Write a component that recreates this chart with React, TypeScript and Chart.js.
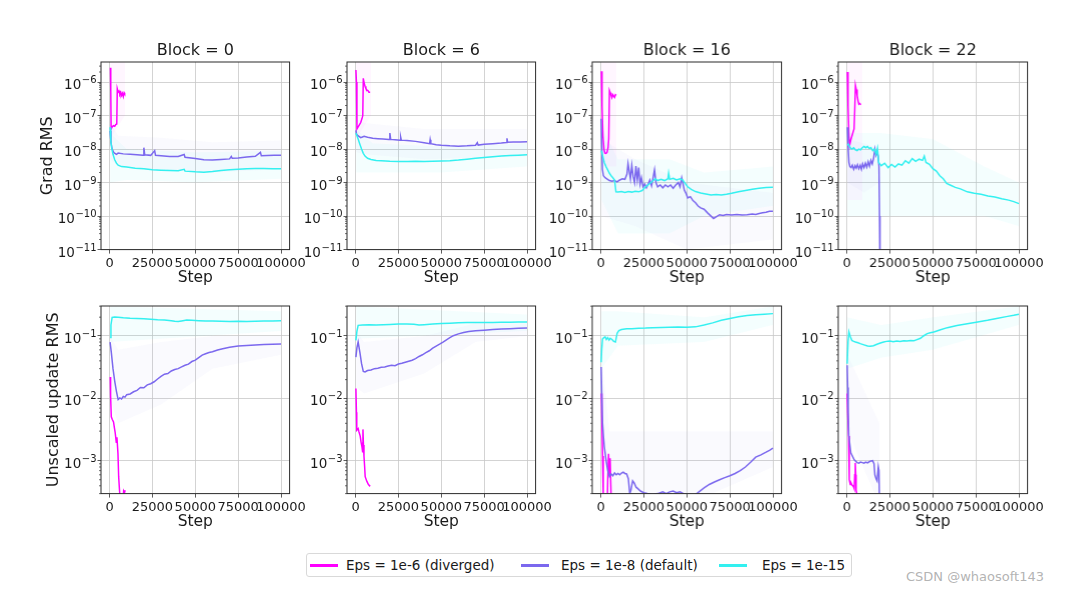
import React, { useEffect, useRef } from 'react';
import { Chart, registerables } from 'chart.js';

Chart.register(...registerables);
Chart.defaults.font.family = "'DejaVu Sans', 'Liberation Sans', sans-serif";
Chart.defaults.color = '#1a1a1a';

type Pt = [number, number];
type Bd = [number, number, number];

// ---------- labels / ticks ----------
const BLOCKS = ['0', '6', '16', '22'];
const SERIES_LABELS = ['Eps = 1e-6 (diverged)', 'Eps = 1e-8 (default)', 'Eps = 1e-15'];
const ROW_LABELS = ['Grad RMS', 'Unscaled update RMS'];
const X_LABEL = 'Step';
const STEP_TICKS = [0, 25000, 50000, 75000, 100000];
const GRAD_TICKS = [1e-11, 1e-10, 1e-9, 1e-8, 1e-7, 1e-6];
const GRAD_TICK_BASE = ['10', '10', '10', '10', '10', '10'];
const GRAD_TICK_EXP = ['−11', '−10', '−9', '−8', '−7', '−6'];
const UPD_TICKS = [1e-3, 1e-2, 1e-1];
const UPD_TICK_BASE = ['10', '10', '10'];
const UPD_TICK_EXP = ['−3', '−2', '−1'];
const STEP_RANGE = [-5000, 105000];
const GRAD_RANGE = [1e-11, 3.98e-6];
const UPD_RANGE = [3.05e-4, 0.302];

// ---------- Grad RMS, Block 0 ----------
const G0_DIV: Pt[] = [[500, 2.7e-6], [700, 6e-7], [900, 4e-8], [1500, 4.6e-8], [2200, 5e-8], [3000, 4.8e-8], [3600, 5.4e-8], [4200, 5.6e-8], [4500, 6.3e-7], [5000, 5e-7], [5500, 5.4e-7], [6000, 4.4e-7], [6500, 5.0e-7], [7000, 4.0e-7], [7500, 4.6e-7], [8000, 3.7e-7], [8500, 4.8e-7], [8800, 4.5e-7]];
const G0_DEF: Pt[] = [[300, 3.5e-8], [800, 1.6e-8], [1500, 1.0e-8], [2500, 7.8e-9], [4000, 7.0e-9], [5000, 7.6e-9], [8000, 7.2e-9], [12000, 7.0e-9], [16000, 6.8e-9], [19500, 6.6e-9], [20000, 1.1e-8], [20500, 6.8e-9], [24000, 6.5e-9], [26300, 9e-9], [26800, 6.5e-9], [30000, 6.3e-9], [35000, 6.0e-9], [40000, 6.0e-9], [43500, 6.9e-9], [44000, 5.7e-9], [50000, 5.2e-9], [55000, 4.8e-9], [60000, 4.7e-9], [65000, 4.9e-9], [70000, 5.1e-9], [71000, 6.0e-9], [71500, 5.3e-9], [75000, 5.4e-9], [80000, 5.8e-9], [85000, 6.1e-9], [88000, 8.0e-9], [88500, 6.3e-9], [92000, 6.4e-9], [96000, 6.5e-9], [100000, 6.5e-9]];
const G0_E15: Pt[] = [[300, 4.5e-8], [700, 1.8e-8], [1200, 1.1e-8], [2000, 7e-9], [3000, 4.8e-9], [4000, 3.8e-9], [5000, 3.3e-9], [7000, 3.0e-9], [10000, 2.9e-9], [15000, 2.7e-9], [20000, 2.6e-9], [25000, 2.4e-9], [30000, 2.35e-9], [35000, 2.3e-9], [40000, 2.25e-9], [43500, 2.5e-9], [44000, 2.2e-9], [50000, 2.1e-9], [55000, 2.05e-9], [60000, 2.15e-9], [65000, 2.3e-9], [70000, 2.4e-9], [75000, 2.5e-9], [80000, 2.6e-9], [85000, 2.65e-9], [90000, 2.65e-9], [95000, 2.6e-9], [100000, 2.6e-9]];

// ---------- Grad RMS, Block 6 ----------
const G6_DIV: Pt[] = [[200, 2.3e-6], [500, 1.0e-6], [800, 4.0e-8], [1500, 4.6e-8], [2200, 5.3e-8], [3000, 6.2e-8], [3700, 8.0e-8], [4200, 1.0e-7], [4500, 1.3e-6], [5000, 9.5e-7], [5500, 7.5e-7], [6000, 6.5e-7], [6500, 5.8e-7], [7200, 5.6e-7], [7800, 5.0e-7], [8500, 5.0e-7]];
const G6_DEF: Pt[] = [[200, 3.6e-8], [600, 2.8e-8], [1000, 2.6e-8], [2000, 2.4e-8], [3000, 2.2e-8], [4000, 2.3e-8], [5000, 2.4e-8], [7000, 2.25e-8], [10000, 2.1e-8], [13000, 2.05e-8], [16000, 2.0e-8], [19500, 1.95e-8], [20000, 3.0e-8], [20500, 1.95e-8], [23000, 1.9e-8], [26000, 1.85e-8], [26300, 2.3e-8], [26700, 1.85e-8], [30000, 1.8e-8], [35000, 1.7e-8], [40000, 1.55e-8], [43200, 1.45e-8], [43500, 1.9e-8], [43900, 1.45e-8], [47000, 1.35e-8], [50000, 1.3e-8], [55000, 1.25e-8], [60000, 1.22e-8], [65000, 1.25e-8], [70000, 1.3e-8], [71000, 1.55e-8], [71500, 1.32e-8], [75000, 1.4e-8], [80000, 1.45e-8], [85000, 1.52e-8], [88000, 1.58e-8], [88300, 2.1e-8], [88700, 1.6e-8], [92000, 1.62e-8], [96000, 1.64e-8], [100000, 1.65e-8]];
const G6_E15: Pt[] = [[200, 3.0e-8], [800, 2.5e-8], [1500, 2.0e-8], [2500, 1.4e-8], [3500, 1.0e-8], [4500, 7.5e-9], [5500, 6.2e-9], [7000, 5.3e-9], [9000, 4.9e-9], [12000, 4.6e-9], [15000, 4.5e-9], [20000, 4.35e-9], [25000, 4.3e-9], [30000, 4.3e-9], [35000, 4.35e-9], [40000, 4.3e-9], [45000, 4.35e-9], [50000, 4.4e-9], [55000, 4.5e-9], [60000, 4.7e-9], [65000, 5.0e-9], [70000, 5.3e-9], [75000, 5.6e-9], [80000, 5.9e-9], [85000, 6.2e-9], [90000, 6.4e-9], [95000, 6.6e-9], [100000, 6.8e-9]];

// ---------- Grad RMS, Block 16 ----------
const G16_DIV: Pt[] = [[300, 2.1e-6], [700, 2e-7], [1200, 2.5e-8], [1800, 1e-8], [2400, 7.6e-9], [3000, 7.4e-9], [3600, 8.0e-9], [4200, 1.1e-8], [4600, 2e-8], [5000, 5.6e-7], [5500, 4.8e-7], [6000, 4.0e-7], [6500, 3.5e-7], [7000, 4.2e-7], [7500, 3.8e-7], [8000, 3.5e-7], [8500, 4.2e-7], [9000, 4.0e-7]];
const G16_DEF: Pt[] = [[200, 8e-8], [500, 1.5e-8], [900, 2.5e-9], [1500, 1.6e-9], [2500, 1.4e-9], [3500, 1.3e-9], [5000, 1.15e-9], [6500, 1.1e-9], [8000, 1.15e-9], [9500, 1.05e-9], [11000, 1.2e-9], [12500, 1.3e-9], [14000, 1.25e-9], [15200, 1.8e-9], [15800, 3.7e-9], [16500, 2.2e-9], [17200, 1.3e-9], [18000, 3.3e-9], [18800, 1.5e-9], [19600, 1.0e-9], [20400, 3.1e-9], [21200, 1.2e-9], [22000, 2.8e-9], [22800, 9e-10], [23600, 1.4e-9], [24500, 7.5e-10], [25500, 9e-10], [26500, 7e-10], [27500, 9e-10], [28500, 1.2e-9], [29500, 8e-10], [30500, 1.5e-9], [31200, 2.4e-9], [32000, 1.0e-9], [33000, 7.5e-10], [34500, 8.5e-10], [36000, 7e-10], [37500, 8.5e-10], [39000, 7.5e-10], [40500, 8.5e-10], [42000, 6.8e-10], [43500, 8.5e-10], [45000, 1.0e-9], [46000, 7.5e-10], [47000, 1.4e-9], [47800, 9e-10], [48500, 6e-10], [49500, 4.8e-10], [50500, 3.5e-10], [52000, 3.8e-10], [53500, 2.9e-10], [55000, 2.5e-10], [56500, 2.0e-10], [58000, 1.75e-10], [60000, 1.6e-10], [62000, 1.25e-10], [64000, 1.0e-10], [65500, 8.5e-11], [67000, 9.5e-11], [69000, 1.1e-10], [71000, 1.05e-10], [73000, 1.12e-10], [76000, 1.08e-10], [79000, 1.12e-10], [82000, 1.08e-10], [85000, 1.1e-10], [88000, 1.15e-10], [90000, 1.12e-10], [92000, 1.2e-10], [94000, 1.25e-10], [96000, 1.3e-10], [98000, 1.4e-10], [100000, 1.4e-10]];
const G16_E15: Pt[] = [[300, 9e-9], [1000, 6.5e-9], [2000, 4e-9], [3000, 3e-9], [4000, 2.4e-9], [5000, 1.9e-9], [6000, 1.6e-9], [7000, 1.4e-9], [8000, 1.2e-9], [8800, 5.3e-10], [10000, 5.2e-10], [12000, 5.4e-10], [14000, 5.1e-10], [16000, 5.4e-10], [18000, 5.2e-10], [20000, 5.5e-10], [22000, 5.3e-10], [24000, 5.8e-10], [26000, 7.5e-10], [28000, 9e-10], [30000, 1.1e-9], [31600, 1.3e-9], [33000, 1.15e-9], [35000, 1.25e-9], [37000, 1.15e-9], [39000, 1.3e-9], [39400, 1.9e-9], [40000, 1.25e-9], [42000, 1.35e-9], [44000, 1.2e-9], [46000, 1.3e-9], [47500, 1.2e-9], [49000, 9.5e-10], [50500, 7.5e-10], [52500, 6.3e-10], [55000, 5.4e-10], [58000, 4.9e-10], [61000, 4.6e-10], [64000, 4.3e-10], [67000, 4.4e-10], [70000, 4.3e-10], [73000, 4.5e-10], [76000, 4.8e-10], [80000, 5.3e-10], [84000, 5.8e-10], [88000, 6.3e-10], [92000, 6.8e-10], [96000, 7.1e-10], [100000, 7.3e-10]];

// ---------- Grad RMS, Block 22 ----------
const G22_DIV: Pt[] = [[300, 2e-6], [700, 2e-7], [1200, 2.5e-8], [1600, 1.3e-8], [2200, 1.8e-8], [3000, 2.5e-8], [3600, 3.2e-8], [4200, 4e-8], [4600, 1.5e-7], [5000, 8e-7], [5500, 6e-7], [6000, 4e-7], [6500, 2.8e-7], [7000, 2.2e-7], [7500, 2.3e-7], [8200, 2.1e-7]];
const G22_DEF: Pt[] = [[300, 4.5e-8], [700, 1.2e-8], [1200, 4e-9], [1800, 3.0e-9], [2500, 2.8e-9], [3200, 3.3e-9], [4000, 2.5e-9], [4800, 3.2e-9], [5500, 2.7e-9], [6200, 3.4e-9], [7000, 2.6e-9], [7800, 3.3e-9], [8500, 2.5e-9], [9200, 3.6e-9], [10000, 2.8e-9], [10800, 3.8e-9], [11600, 2.9e-9], [12400, 4.2e-9], [13200, 3.1e-9], [14000, 4.6e-9], [14800, 3.6e-9], [15600, 5.5e-9], [16300, 1.0e-8], [17000, 6.5e-9], [17600, 8e-9], [18200, 6.3e-9], [18700, 3e-9], [19000, 1e-10], [19300, 1e-12]];
const G22_E15: Pt[] = [[300, 1.3e-8], [1000, 1.4e-8], [2000, 1.1e-8], [3000, 1.0e-8], [4000, 1.1e-8], [5000, 9.5e-9], [6000, 9.0e-9], [7000, 1.0e-8], [8000, 9.5e-9], [9000, 1.1e-8], [10000, 1.2e-8], [11000, 1.1e-8], [12000, 1.2e-8], [13000, 1.05e-8], [14000, 1.1e-8], [15000, 9e-9], [16000, 1.0e-8], [17000, 7e-9], [17800, 1.05e-8], [18500, 4e-9], [20000, 3.2e-9], [22000, 3.8e-9], [24000, 2.8e-9], [26000, 3.5e-9], [28000, 2.9e-9], [30000, 3.6e-9], [32000, 3.3e-9], [34000, 4.5e-9], [36000, 3.8e-9], [38000, 5.2e-9], [40000, 4.3e-9], [42000, 5.0e-9], [44000, 4.6e-9], [45000, 6.2e-9], [46000, 4.0e-9], [48000, 3.5e-9], [50000, 2.6e-9], [52000, 2.2e-9], [54000, 1.6e-9], [56000, 1.3e-9], [58000, 9.5e-10], [60000, 8.5e-10], [63000, 7.2e-10], [66000, 6.5e-10], [70000, 5.3e-10], [74000, 4.8e-10], [78000, 4.5e-10], [82000, 4.0e-10], [86000, 3.7e-10], [90000, 3.3e-10], [94000, 3.0e-10], [97000, 2.7e-10], [100000, 2.35e-10]];

// ---------- Unscaled update RMS, Block 0 ----------
const U0_DIV: Pt[] = [[400, 0.022], [600, 0.011], [1000, 0.0051], [1600, 0.0046], [2300, 0.0042], [2800, 0.0034], [3300, 0.0028], [3900, 0.0020], [4300, 0.0024], [4900, 0.0013], [5300, 0.00056], [5800, 0.00034], [6300, 0.00022], [7500, 0.00018], [8200, 0.00033], [8700, 0.00031], [9100, 0.00034]];
const U0_DEF: Pt[] = [[300, 0.080], [1000, 0.055], [2000, 0.030], [3000, 0.019], [4000, 0.013], [5000, 0.0096], [6000, 0.0102], [7000, 0.0098], [8000, 0.0108], [9000, 0.0105], [10000, 0.0115], [12000, 0.0118], [14000, 0.0128], [16000, 0.0135], [18000, 0.0150], [20000, 0.0148], [22000, 0.0165], [24000, 0.0172], [26000, 0.0185], [28000, 0.0205], [30000, 0.0225], [32000, 0.0245], [34000, 0.0250], [36000, 0.0275], [38000, 0.0290], [40000, 0.0300], [42000, 0.0320], [44000, 0.0340], [46000, 0.0355], [48000, 0.0390], [50000, 0.0410], [52000, 0.0450], [54000, 0.0495], [56000, 0.0520], [58000, 0.0545], [60000, 0.0560], [63000, 0.0595], [66000, 0.0625], [70000, 0.0660], [75000, 0.0690], [80000, 0.0705], [85000, 0.0720], [90000, 0.0730], [95000, 0.0740], [100000, 0.0745]];
const U0_E15: Pt[] = [[300, 0.095], [800, 0.15], [1500, 0.198], [3000, 0.202], [5000, 0.200], [8000, 0.196], [12000, 0.192], [16000, 0.190], [20000, 0.188], [24000, 0.186], [28000, 0.182], [32000, 0.180], [36000, 0.176], [38000, 0.172], [40000, 0.170], [42000, 0.174], [45000, 0.180], [48000, 0.178], [52000, 0.176], [56000, 0.174], [60000, 0.173], [65000, 0.172], [70000, 0.171], [75000, 0.172], [80000, 0.171], [85000, 0.172], [90000, 0.173], [95000, 0.174], [100000, 0.175]];

// ---------- Unscaled update RMS, Block 6 ----------
const U6_DIV: Pt[] = [[200, 0.0144], [500, 0.006], [700, 0.0031], [1500, 0.0033], [2000, 0.0029], [2700, 0.0025], [3200, 0.0020], [3700, 0.0017], [4100, 0.0014], [4300, 0.0032], [4600, 0.0018], [4900, 0.0012], [5300, 0.0008], [5600, 0.00056], [6600, 0.00047], [7500, 0.00042], [8200, 0.00040], [8500, 0.00041]];
const U6_DEF: Pt[] = [[200, 0.046], [800, 0.065], [1500, 0.080], [2500, 0.055], [3500, 0.036], [4500, 0.027], [5500, 0.0265], [7000, 0.0280], [9000, 0.0285], [11000, 0.0300], [13000, 0.0305], [15000, 0.0315], [17000, 0.0320], [19000, 0.0330], [21000, 0.0340], [23000, 0.0335], [25000, 0.0355], [27000, 0.0365], [29000, 0.0380], [31000, 0.0395], [33000, 0.0410], [35000, 0.0435], [37000, 0.047], [39000, 0.050], [41000, 0.054], [43000, 0.058], [45000, 0.064], [47000, 0.069], [49000, 0.074], [51000, 0.080], [53000, 0.087], [55000, 0.094], [57000, 0.101], [60000, 0.108], [63000, 0.114], [66000, 0.118], [70000, 0.121], [75000, 0.124], [80000, 0.127], [85000, 0.129], [90000, 0.131], [95000, 0.133], [100000, 0.134]];
const U6_E15: Pt[] = [[200, 0.085], [800, 0.12], [1500, 0.148], [4000, 0.150], [8000, 0.151], [12000, 0.150], [16000, 0.152], [20000, 0.153], [25000, 0.155], [30000, 0.156], [34000, 0.154], [37000, 0.150], [40000, 0.152], [45000, 0.156], [50000, 0.158], [55000, 0.160], [60000, 0.163], [65000, 0.164], [70000, 0.164], [75000, 0.165], [80000, 0.165], [85000, 0.166], [90000, 0.166], [95000, 0.167], [100000, 0.167]];

// ---------- Unscaled update RMS, Block 16 ----------
const U16_DIV: Pt[] = [[300, 0.012], [600, 0.005], [1000, 0.0012], [1400, 0.00025], [1800, 0.0001], [3500, 0.0001], [4000, 0.0005], [4500, 0.0013], [5000, 0.0006], [5400, 0.0011], [5900, 0.00032], [6400, 0.0001]];
const U16_DEF: Pt[] = [[200, 0.032], [600, 0.010], [1000, 0.004], [1500, 0.0025], [2000, 0.0017], [3000, 0.00104], [4000, 0.0007], [5000, 0.00056], [6000, 0.00062], [7000, 0.00058], [8000, 0.00064], [9000, 0.00060], [10000, 0.00063], [11000, 0.00060], [12000, 0.00064], [13000, 0.00066], [14000, 0.00063], [15000, 0.00062], [16000, 0.00052], [16800, 0.00030], [17500, 0.00034], [18500, 0.00048], [19500, 0.00044], [20500, 0.00038], [21500, 0.00036], [23000, 0.00033], [25000, 0.00031], [27000, 0.00030], [30000, 0.00029], [33000, 0.00030], [36000, 0.00032], [38000, 0.00030], [40000, 0.00032], [42000, 0.00033], [44000, 0.00031], [46000, 0.00032], [48000, 0.00030], [50000, 0.00029], [52000, 0.00028], [55000, 0.00029], [57000, 0.00032], [60000, 0.00037], [63000, 0.00042], [66000, 0.00046], [69000, 0.00050], [72000, 0.00054], [75000, 0.00058], [78000, 0.00063], [81000, 0.00070], [84000, 0.00080], [87000, 0.00095], [90000, 0.00115], [93000, 0.00125], [96000, 0.00138], [98000, 0.00148], [100000, 0.0016]];
const U16_E15: Pt[] = [[200, 0.038], [500, 0.06], [1000, 0.090], [1800, 0.094], [2500, 0.097], [3200, 0.088], [4000, 0.094], [4800, 0.086], [5500, 0.092], [6500, 0.088], [7500, 0.082], [8500, 0.080], [9500, 0.110], [10500, 0.122], [12000, 0.127], [15000, 0.130], [18000, 0.131], [22000, 0.133], [26000, 0.134], [30000, 0.136], [35000, 0.137], [40000, 0.138], [45000, 0.139], [50000, 0.138], [55000, 0.140], [60000, 0.150], [65000, 0.162], [70000, 0.178], [75000, 0.190], [80000, 0.203], [85000, 0.212], [90000, 0.218], [95000, 0.223], [100000, 0.228]];

// ---------- Unscaled update RMS, Block 22 ----------
const U22_DIV: Pt[] = [[200, 0.012], [500, 0.006], [1000, 0.0025], [1400, 0.0005], [2000, 0.00042], [2500, 0.00044], [3000, 0.00041], [3500, 0.00040], [4000, 0.00038], [4300, 0.00036], [4600, 0.0006], [4900, 0.00093], [5200, 0.0006], [5400, 0.00034], [6000, 0.00028]];
const U22_DEF: Pt[] = [[200, 0.034], [500, 0.015], [800, 0.006], [1100, 0.0026], [2300, 0.00135], [4300, 0.00104], [6000, 0.00094], [7000, 0.00092], [8000, 0.00096], [9000, 0.00094], [10000, 0.00092], [11000, 0.00096], [12000, 0.00093], [13000, 0.00097], [14000, 0.00100], [15000, 0.00101], [15800, 0.00090], [16300, 0.00060], [17000, 0.00052], [17600, 0.00048], [18300, 0.00081], [18700, 0.00070], [19000, 0.0002], [19300, 0.00005]];
const U22_E15: Pt[] = [[200, 0.036], [700, 0.08], [1200, 0.116], [2000, 0.098], [2900, 0.085], [4000, 0.082], [5000, 0.080], [6500, 0.078], [7800, 0.0755], [10000, 0.072], [12000, 0.069], [13600, 0.0684], [15500, 0.070], [17500, 0.0736], [19500, 0.077], [21400, 0.080], [23000, 0.082], [25000, 0.083], [27000, 0.081], [29000, 0.083], [31000, 0.082], [33000, 0.084], [35000, 0.083], [37000, 0.085], [39000, 0.084], [40000, 0.086], [42800, 0.092], [44500, 0.100], [46700, 0.109], [48500, 0.113], [50600, 0.116], [54000, 0.125], [58400, 0.136], [64000, 0.147], [70000, 0.157], [76000, 0.168], [81700, 0.178], [87000, 0.191], [93400, 0.206], [97000, 0.214], [100000, 0.222]];

// ---------- faint spread bands [step, low, high] ----------
const BAND_G0_DIV: Bd[] = [[300, 2e-8, 4e-6], [9000, 1e-7, 4e-6]];
const BAND_G0_DEF: Bd[] = [[300, 5e-9, 6e-8], [5000, 3e-9, 2.5e-8], [30000, 2.5e-9, 2.2e-8], [60000, 2e-9, 1.6e-8], [100000, 2.5e-9, 1.8e-8]];
const BAND_G0_E15: Bd[] = [[300, 1e-9, 3e-8], [10000, 1.2e-9, 1e-8], [50000, 1e-9, 8e-9], [100000, 1.3e-9, 9e-9]];
const BAND_G6_DIV: Bd[] = [[300, 2e-8, 4e-6], [9000, 1e-7, 4e-6]];
const BAND_G6_DEF: Bd[] = [[300, 8e-9, 8e-8], [5000, 7e-9, 6e-8], [40000, 5e-9, 4e-8], [100000, 6e-9, 4e-8]];
const BAND_G6_E15: Bd[] = [[300, 2e-9, 4e-8], [10000, 2e-9, 1.5e-8], [50000, 2e-9, 1.2e-8], [100000, 3e-9, 1.5e-8]];
const BAND_G16_DIV: Bd[] = [[300, 3e-9, 4e-6], [9000, 3e-9, 4e-6]];
const BAND_G16_DEF: Bd[] = [[300, 1e-10, 2e-8], [20000, 5e-11, 5e-9], [50000, 1e-11, 1e-9], [100000, 2e-11, 5e-10]];
const BAND_G16_E15: Bd[] = [[300, 3e-10, 5e-8], [10000, 3e-11, 5e-9], [40000, 3e-11, 5e-9], [60000, 1e-10, 2e-9], [100000, 2e-10, 3e-9]];
const BAND_G22_DIV: Bd[] = [[300, 3e-10, 4e-6], [9000, 3e-10, 4e-6]];
const BAND_G22_DEF: Bd[] = [[300, 1e-9, 2e-8], [10000, 5e-10, 1.5e-8], [19000, 1e-9, 1e-8]];
const BAND_G22_E15: Bd[] = [[300, 1e-10, 3e-8], [20000, 1e-10, 3e-8], [50000, 1e-10, 2e-8], [80000, 1e-10, 3e-9], [100000, 5e-11, 1e-9]];
const BAND_U0_DEF: Bd[] = [[300, 0.01, 0.1], [5000, 0.004, 0.06], [30000, 0.008, 0.08], [60000, 0.03, 0.1], [100000, 0.05, 0.1]];
const BAND_U0_E15: Bd[] = [[300, 0.08, 0.3], [100000, 0.12, 0.25]];
const BAND_U6_DEF: Bd[] = [[300, 0.015, 0.12], [5000, 0.012, 0.08], [40000, 0.025, 0.1], [70000, 0.08, 0.16], [100000, 0.1, 0.16]];
const BAND_U6_E15: Bd[] = [[300, 0.09, 0.3], [100000, 0.12, 0.22]];
const BAND_U16_DEF: Bd[] = [[300, 0.005, 0.05], [5000, 2e-4, 3e-3], [50000, 2e-4, 3e-3], [100000, 8e-4, 3e-3]];
const BAND_U16_E15: Bd[] = [[300, 0.03, 0.25], [10000, 0.07, 0.25], [60000, 0.08, 0.2], [100000, 0.15, 0.3]];
const BAND_U22_DEF: Bd[] = [[300, 0.003, 0.05], [19000, 2e-4, 4e-3]];
const BAND_U22_E15: Bd[] = [[300, 0.03, 0.2], [20000, 0.045, 0.15], [50000, 0.06, 0.2], [100000, 0.15, 0.3]];

// ---------- styling ----------
const COLORS = ['#ff00ff', '#7b68ee', '#33f0f0'];
const BAND_COLORS = ['rgba(255,0,255,0.035)', 'rgba(123,104,238,0.035)', 'rgba(0,240,240,0.045)'];
const TEXT = '#1a1a1a';
const FONT = "'DejaVu Sans', sans-serif";

type PanelDef = { row: number; col: number; lines: Pt[][]; bands: [Bd[], number][] };

const PANELS: PanelDef[] = [
  { row: 0, col: 0, lines: [G0_DIV, G0_DEF, G0_E15], bands: [[BAND_G0_DIV, 0], [BAND_G0_DEF, 1], [BAND_G0_E15, 2]] },
  { row: 0, col: 1, lines: [G6_DIV, G6_DEF, G6_E15], bands: [[BAND_G6_DIV, 0], [BAND_G6_DEF, 1], [BAND_G6_E15, 2]] },
  { row: 0, col: 2, lines: [G16_DIV, G16_DEF, G16_E15], bands: [[BAND_G16_DIV, 0], [BAND_G16_DEF, 1], [BAND_G16_E15, 2]] },
  { row: 0, col: 3, lines: [G22_DIV, G22_DEF, G22_E15], bands: [[BAND_G22_DIV, 0], [BAND_G22_DEF, 1], [BAND_G22_E15, 2]] },
  { row: 1, col: 0, lines: [U0_DIV, U0_DEF, U0_E15], bands: [[BAND_U0_DEF, 1], [BAND_U0_E15, 2]] },
  { row: 1, col: 1, lines: [U6_DIV, U6_DEF, U6_E15], bands: [[BAND_U6_DEF, 1], [BAND_U6_E15, 2]] },
  { row: 1, col: 2, lines: [U16_DIV, U16_DEF, U16_E15], bands: [[BAND_U16_DEF, 1], [BAND_U16_E15, 2]] },
  { row: 1, col: 3, lines: [U22_DIV, U22_DEF, U22_E15], bands: [[BAND_U22_DEF, 1], [BAND_U22_E15, 2]] },
];

// layout (pixels)
const COL_LEFT = [100.5, 346.7, 592.1, 838.1];
const PLOT_W = 188.6;
const ROW_TOP = [61.7, 305.7];
const PLOT_H = 187.6;
const X_AXIS_H = 40;
const RIGHT_PAD = 30;
const TOP_PAD = 21;

function makeDecor(title: string | null, ticks: number[], bases: string[], exps: string[]) {
  return {
    id: 'decor',
    afterDraw(chart: any) {
      const { ctx, chartArea: a, scales } = chart;
      const y = scales.y;
      ctx.save();
      // minor log ticks
      ctx.strokeStyle = '#333';
      ctx.lineWidth = 0.7;
      const lo = Math.floor(Math.log10(y.min));
      const hi = Math.ceil(Math.log10(y.max));
      ctx.beginPath();
      for (let e = lo; e <= hi; e++) {
        for (let k = 2; k <= 9; k++) {
          const v = k * Math.pow(10, e);
          if (v < y.min || v > y.max) continue;
          const py = y.getPixelForValue(v);
          ctx.moveTo(a.left - 2, py);
          ctx.lineTo(a.left, py);
        }
      }
      ctx.stroke();
      // frame
      ctx.lineWidth = 1;
      ctx.strokeStyle = '#2b2b2b';
      ctx.strokeRect(a.left, a.top, a.right - a.left, a.bottom - a.top);
      // y tick labels with superscript exponents
      ctx.fillStyle = TEXT;
      ctx.textBaseline = 'alphabetic';
      ctx.textAlign = 'left';
      ticks.forEach((v, i) => {
        const py = y.getPixelForValue(v);
        ctx.font = `10px ${FONT}`;
        const ew = ctx.measureText(exps[i]).width;
        ctx.font = `13.5px ${FONT}`;
        const bw = ctx.measureText(bases[i]).width;
        const right = a.left - 4.5;
        const x0 = right - ew - bw - 0.5;
        ctx.fillText(bases[i], x0, py + 7);
        ctx.font = `10px ${FONT}`;
        ctx.fillText(exps[i], x0 + bw + 0.5, py + 1);
      });
      // panel title
      if (title) {
        ctx.font = `16px ${FONT}`;
        ctx.textAlign = 'center';
        ctx.textBaseline = 'middle';
        ctx.fillText(title, (a.left + a.right) / 2, a.top - 11);
      }
      ctx.restore();
    },
  };
}

function Panel({ def }: { def: PanelDef }) {
  const ref = useRef<HTMLCanvasElement>(null);
  const { row, col } = def;
  const yw = col === 0 ? 95 : 60;
  const left = COL_LEFT[col] - yw;
  const top = ROW_TOP[row] - TOP_PAD;
  const width = yw + PLOT_W + RIGHT_PAD;
  const height = TOP_PAD + PLOT_H + X_AXIS_H;

  useEffect(() => {
    if (!ref.current) return;
    const isTop = row === 0;
    const yTicks = isTop ? GRAD_TICKS : UPD_TICKS;
    const yRange = isTop ? GRAD_RANGE : UPD_RANGE;
    const datasets: any[] = [];
    def.bands.forEach(([b, ci]) => {
      datasets.push({
        data: b.map(([x, lo]) => ({ x, y: lo })),
        borderWidth: 0, pointRadius: 0, fill: false, order: 10,
        borderColor: 'rgba(0,0,0,0)',
      });
      datasets.push({
        data: b.map(([x, , hi]) => ({ x, y: hi })),
        borderWidth: 0, pointRadius: 0, fill: '-1', order: 10,
        borderColor: 'rgba(0,0,0,0)', backgroundColor: BAND_COLORS[ci],
      });
    });
    def.lines.forEach((l, i) => {
      datasets.push({
        label: SERIES_LABELS[i],
        data: l.map(([x, y]) => ({ x, y })),
        borderColor: COLORS[i],
        borderWidth: 1.5,
        pointRadius: 0,
        fill: false,
        tension: 0,
        order: 3 - i,
      });
    });
    const decor = makeDecor(
      isTop ? 'Block = ' + BLOCKS[col] : null,
      yTicks,
      isTop ? GRAD_TICK_BASE : UPD_TICK_BASE,
      isTop ? GRAD_TICK_EXP : UPD_TICK_EXP,
    );
    const chart = new Chart(ref.current, {
      type: 'line',
      data: { datasets },
      plugins: [decor],
      options: {
        animation: false,
        responsive: true,
        maintainAspectRatio: false,
        layout: { padding: { left: 0, right: RIGHT_PAD, top: TOP_PAD, bottom: 0 } },
        plugins: {
          legend: { display: false },
          tooltip: { enabled: false },
          title: { display: false },
        },
        scales: {
          x: {
            type: 'linear',
            min: STEP_RANGE[0],
            max: STEP_RANGE[1],
            afterBuildTicks: (s: any) => { s.ticks = STEP_TICKS.map((v) => ({ value: v })); },
            afterFit: (s: any) => { s.height = X_AXIS_H; },
            ticks: {
              autoSkip: false, maxRotation: 0, minRotation: 0, padding: 2,
              color: TEXT, font: { size: 13 },
              callback: (v: any) => String(v),
            },
            grid: { color: '#c8c8c8', lineWidth: 0.8, tickLength: 4, tickColor: '#333', tickWidth: 0.8 },
            border: { display: false },
            title: {
              display: true, text: X_LABEL, color: TEXT,
              font: { size: 15.5, lineHeight: 1.25 }, padding: { top: 0, bottom: 1.5 },
            },
          },
          y: {
            type: 'logarithmic',
            position: 'left',
            min: yRange[0],
            max: yRange[1],
            afterBuildTicks: (s: any) => { s.ticks = yTicks.map((v) => ({ value: v })); },
            afterFit: (s: any) => { s.width = yw; },
            ticks: {
              autoSkip: false, padding: 1, color: TEXT, font: { size: 13 },
              callback: () => '',
            },
            grid: { color: '#c8c8c8', lineWidth: 0.8, tickLength: 3.5, tickColor: '#333', tickWidth: 0.8 },
            border: { display: false },
            title: {
              display: col === 0, text: ROW_LABELS[row], color: TEXT,
              font: { size: 16, lineHeight: 1.25 },
              padding: { top: isTop ? 31.5 : 37.5, bottom: 0 },
            },
          },
        },
      } as any,
    });
    return () => chart.destroy();
  }, []);

  return (
    <div style={{ position: 'absolute', left, top, width, height }}>
      <canvas ref={ref} />
    </div>
  );
}

const LEGEND_POS = [
  { swatch: 3, text: 39 },
  { swatch: 214, text: 254 },
  { swatch: 412, text: 455 },
];

export default function App() {
  return (
    <div style={{ position: 'absolute', left: 0, top: 0, width: 1080, height: 592, background: '#fff', overflow: 'hidden', fontFamily: FONT }}>
      {PANELS.map((p, i) => <Panel key={i} def={p} />)}
      <div style={{ position: 'absolute', left: 306, top: 553, width: 546, height: 24, border: '1px solid #d9d9d9', borderRadius: 3, boxSizing: 'border-box', background: '#fff' }}>
        {SERIES_LABELS.map((lab, i) => (
          <React.Fragment key={i}>
            <div style={{ position: 'absolute', left: LEGEND_POS[i].swatch, top: 9.5, width: 28, height: 3, background: COLORS[i] }} />
            <div style={{ position: 'absolute', left: LEGEND_POS[i].text, top: 3, fontSize: 13.5, lineHeight: '16px', color: TEXT, whiteSpace: 'nowrap' }}>{lab}</div>
          </React.Fragment>
        ))}
      </div>
      <div style={{ position: 'absolute', left: 906, top: 569, fontSize: 13, color: 'rgba(160,160,160,0.8)', whiteSpace: 'nowrap' }}>CSDN @whaosoft143</div>
    </div>
  );
}
